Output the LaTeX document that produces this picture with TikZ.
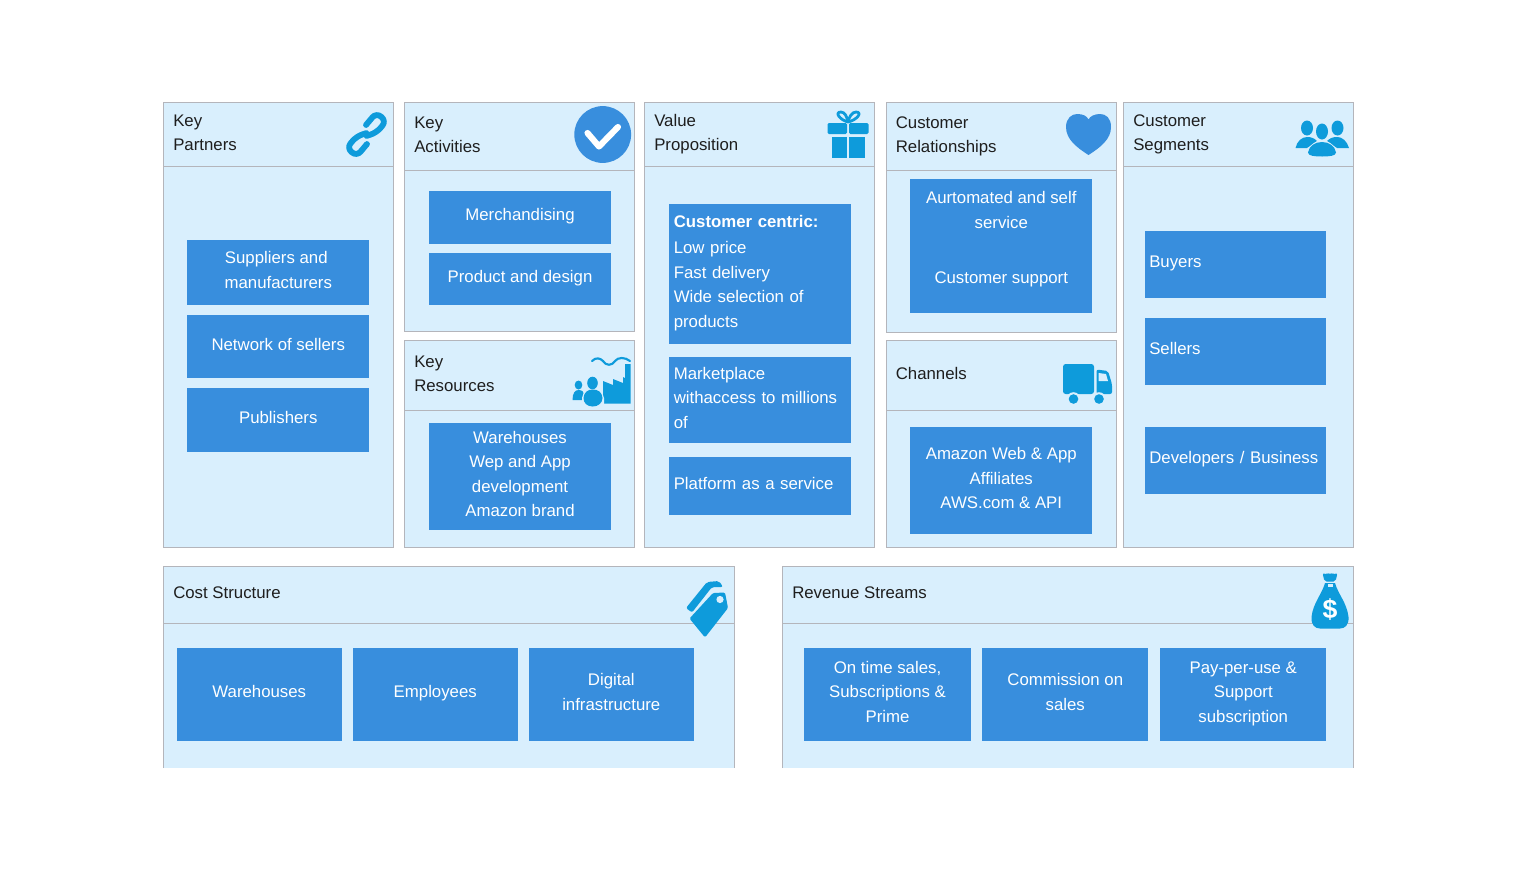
\documentclass[tikz,border=0pt]{standalone}
\usepackage{fontspec}
\setmainfont{Liberation Sans}
\definecolor{panelfill}{HTML}{D9EFFD}
\definecolor{paneledge}{HTML}{B4B5BB}
\definecolor{boxfill}{HTML}{388EDD}
\definecolor{iconblue}{HTML}{0E9BDB}
\definecolor{labeltext}{HTML}{1E1E1E}
\tikzset{
	panelbody/.style={fill=panelfill},
	paneledgeline/.style={draw=paneledge, line width=.75pt},
	headlabel/.style={anchor=west, align=left, text=labeltext, inner sep=0pt, font=\fontsize{12.6}{18.4}\selectfont},
	bluebox/.style={anchor=north west, fill=boxfill, text=white, inner sep=0pt, align=center, font=\fontsize{12.6}{18.4}\selectfont},
	iconfill/.style={fill=iconblue},
	iconline/.style={draw=iconblue, line cap=round, line join=round}
}
\newcommand{\LineEnds}[1]{\strut #1\rule[-7.8pt]{0pt}{1pt}}
\newcommand{\Panel}[7]{
	\fill[panelbody] (#2,#3) rectangle (#4,#5);
	\draw[paneledgeline] (#2,#3) rectangle (#4,#5);
	\draw[paneledgeline] (#2,#6) -- (#4,#6);
	\node[headlabel] (#1) at (#2+9.5,#3*.5+#6*.5+1) {\LineEnds{#7}};
}
\newcommand{\OpenPanel}[7]{
	\fill[panelbody] (#2,#3) rectangle (#4,#5);
	\draw[paneledgeline] (#2,#5) -- (#2,#3) -- (#4,#3) -- (#4,#5);
	\draw[paneledgeline] (#2,#6) -- (#4,#6);
	\node[headlabel] (#1) at (#2+9.5,#3*.5+#6*.5+.5) {\LineEnds{#7}};
}
\newcommand{\BlueBox}[6]{
	\node[bluebox, minimum width=#4*.75pt, minimum height=#5*.75pt] (#1) at (#2,#3) {\LineEnds{#6}};
}
\newcommand{\BlueBoxLeft}[6]{
	\node[bluebox, align=left, text width=#4*.75pt-6.75pt, inner xsep=3.375pt, minimum height=#5*.75pt] (#1) at (#2,#3) {\LineEnds{#6}};
}
\begin{document}
\begin{tikzpicture}[x=.75pt,y=-.75pt]
	\useasboundingbox (0,0) rectangle (1516,872);
	% panels
	\Panel{keypartners}{163.5}{102.5}{393}{547}{166}{Key\\Partners}
	\Panel{keyactivities}{404.5}{102.5}{634.5}{331.5}{170}{Key\\Activities}
	\Panel{keyresources}{404.5}{340.5}{634.5}{547}{410}{Key\\Resources}
	\Panel{valueprop}{644.5}{102.5}{874.5}{547}{166}{Value\\Proposition}
	\Panel{custrel}{886}{102.5}{1116}{332}{170}{Customer\\Relationships}
	\Panel{channels}{886}{340.5}{1116}{547}{410}{Channels}
	\Panel{custseg}{1123.5}{102.5}{1353}{547}{166}{Customer\\Segments}
	\OpenPanel{coststruct}{163.5}{566.5}{734}{768}{623}{Cost Structure}
	\OpenPanel{revenue}{782.5}{566.5}{1353.5}{768}{623}{Revenue Streams}
	% key partners
	\BlueBox{suppliers}{187}{240}{182}{65}{Suppliers and\hspace*{3pt}\\manufacturers}
	\BlueBox{sellernet}{187}{315}{182}{63}{Network of sellers}
	\BlueBox{publishers}{187}{388}{182}{64}{Publishers}
	% key activities
	\BlueBox{merch}{429}{191}{181.5}{52.5}{Merchandising}
	\BlueBox{product}{429}{253}{181.5}{52}{Product and design}
	% key resources
	\BlueBox{resources}{429}{423}{181.5}{107}{Warehouses\\Wep and App\\development\\Amazon brand}
	% value proposition
	\BlueBoxLeft{centric}{669}{203.5}{182}{140.5}{\textbf{Customer centric:}\\[1.5pt]Low price\\Fast delivery\\Wide selection of\\products}
	\BlueBoxLeft{market}{669}{357}{182}{86}{Marketplace\\withaccess to millions\\of}
	\BlueBoxLeft{platform}{669}{456.5}{182}{58}{Platform as a service}
	% customer relationships
	\BlueBox{selfserv}{910}{178.5}{182}{68}{Aurtomated and self\\service}
	\BlueBox{support}{910}{246}{182}{67}{Customer support}
	% channels
	\BlueBox{webapp}{910}{427}{182}{107}{Amazon Web \& App\\Affiliates\\AWS.com \& API}
	% customer segments
	\BlueBoxLeft{buyers}{1144.5}{230.5}{181.5}{67.5}{Buyers}
	\BlueBoxLeft{sellers}{1144.5}{317.5}{181.5}{67.5}{Sellers}
	\BlueBoxLeft{developers}{1144.5}{426.5}{181.5}{67.5}{Developers / Business}
	% cost
	\BlueBox{warehouses}{176.5}{648}{165}{92.5}{Warehouses}
	\BlueBox{employees}{352.5}{648}{165}{92.5}{Employees}
	\BlueBox{digital}{528.5}{648}{165}{92.5}{Digital\\infrastructure}
	% revenue
	\BlueBox{ontime}{804}{648}{166.5}{92.5}{On time sales,\\Subscriptions \&\\Prime}
	\BlueBox{commission}{982}{648}{166}{92.5}{Commission on\\sales}
	\BlueBox{payper}{1160}{648}{166}{92.5}{Pay-per-use \&\\Support\\subscription}
	% link icon
	\begin{scope}[shift={(366.5,134.5)},rotate=50]
		\draw[iconline, line width=4.4pt, rounded corners=4.4pt] (7,-6.5) -- (23,-6.5) -- (23,6.5) -- (8,6.5) -- (-1,1);
		\draw[iconline, line width=4.4pt, rounded corners=4.4pt] (-7,6.5) -- (-23,6.5) -- (-23,-6.5) -- (-8,-6.5) -- (1,-1);
	\end{scope}
	% check icon
	\fill[boxfill] (602.7,134.5) circle (28.4);
	\draw[white, line width=4.6pt, line cap=round, line join=round] (587.5,133) -- (599,146.5) -- (618,127);
	% gift icon
	\draw[iconline, line width=2.1pt] (848,122) .. controls (840,120) and (834,112) .. (841,112) .. controls (845,112) and (847,117) .. (848,122) .. controls (849,117) and (852,112) .. (856,112) .. controls (863,112) and (857,120) .. (848,122);
	\fill[iconfill, rounded corners=1pt] (827.5,123) rectangle (847,134);
	\fill[iconfill, rounded corners=1pt] (849,123) rectangle (868.5,134);
	\fill[iconfill] (832,137) rectangle (847,158);
	\fill[iconfill] (849,137) rectangle (865,158);
	% heart icon
	\fill[boxfill] (1088.5,155) .. controls (1076,147) and (1066,139) .. (1066,127) .. controls (1066,118) and (1072,114) .. (1077,114) .. controls (1083,114) and (1087,116) .. (1088.5,119.5) .. controls (1090,116) and (1095,114) .. (1100,114) .. controls (1106,114) and (1111,118) .. (1111,127) .. controls (1111,139) and (1101,147) .. (1088.5,155) -- cycle;
	% people icon
	\fill[iconfill] (1307,128) ellipse (6 and 7.5);
	\fill[iconfill] (1337.5,128) ellipse (6 and 7.5);
	\fill[iconfill] (1295.5,148) .. controls (1297,141) and (1302,137) .. (1307,137) .. controls (1311,137) and (1314,138) .. (1317,141) -- (1307,148) -- cycle;
	\fill[iconfill] (1349,148) .. controls (1347,141) and (1342,137) .. (1337.5,137) .. controls (1333,137) and (1330,138) .. (1327,141) -- (1337,148) -- cycle;
	\fill[panelfill] (1322,131.5) ellipse (7.5 and 9.5);
	\fill[panelfill] (1306,157.5) .. controls (1307,147) and (1314,140.5) .. (1322,140.5) .. controls (1330,140.5) and (1337,147) .. (1338,157.5) -- cycle;
	\fill[iconfill] (1322,131.5) ellipse (6 and 8);
	\fill[iconfill] (1322,156.5) .. controls (1315,156.5) and (1308,156) .. (1308,152.5) .. controls (1309,146) and (1315,142) .. (1322,142) .. controls (1329,142) and (1335,146) .. (1336,152.5) .. controls (1336,156) and (1329,156.5) .. (1322,156.5) -- cycle;
	% factory icon
	\draw[iconline, line width=1.6pt] (592,361) .. controls (596,357) and (600,358) .. (603,361) .. controls (606,366) and (612,366) .. (615,361) .. controls (618,357) and (625,357) .. (630,361);
	\fill[iconfill] (603,403.5) -- (603,381) -- (613,385) -- (613,379) -- (623,383) -- (623,377) -- (625,378) -- (625,364) -- (630.5,364) -- (630.5,403.5) -- cycle;
	\fill[iconfill] (578.5,385) ellipse (3.8 and 4.5);
	\fill[iconfill] (572.5,400) .. controls (572.5,393) and (575,390) .. (578.5,390) .. controls (582,390) and (584,392) .. (584,394) -- (584,400) -- cycle;
	\fill[panelfill] (592.5,383) ellipse (6.5 and 7.5);
	\fill[panelfill] (582,407) -- (582,398) .. controls (583,391) and (588,388) .. (592.5,388) .. controls (597,388) and (603,391) .. (604,398) -- (604,407) -- cycle;
	\fill[iconfill] (592.5,383) ellipse (5.3 and 6.3);
	\fill[iconfill] (592.8,406.5) .. controls (587,406.5) and (583.5,403) .. (583.5,398) .. controls (584,392) and (588,389.5) .. (592.8,389.5) .. controls (598,389.5) and (602,392) .. (602.5,398) .. controls (602.5,403) and (598,406.5) .. (592.8,406.5) -- cycle;
	% truck icon
	\fill[iconfill, rounded corners=2pt] (1063,364) rectangle (1094,394);
	\fill[iconfill, rounded corners=1.5pt] (1096.5,394) -- (1096.5,369.5) -- (1108,371) -- (1112,384) -- (1112,394) -- cycle;
	\fill[panelfill] (1098.5,373) -- (1106,374) -- (1108,381) -- (1098.5,381) -- cycle;
	\fill[panelfill] (1073.5,399) circle (6.8);
	\fill[panelfill] (1099,399) circle (6.8);
	\fill[iconfill] (1073.5,399) circle (4.8);
	\fill[iconfill] (1099,399) circle (4.8);
	% tag icon
	\fill[iconfill, rounded corners=1.5pt] (686,608) -- (707,582) -- (719,581) -- (723,587) -- (712,587) -- (692,612.5) -- cycle;
	\fill[iconfill, rounded corners=1pt] (713,593) -- (725,592.5) -- (728,608) -- (705,637.5) -- (689.5,618.5) -- cycle;
	\fill[panelfill] (720,599.5) circle (3.6);
	% money bag icon
	\fill[iconfill, rounded corners=1.5pt] (1322.5,573) -- (1327,574.5) -- (1330,572.5) -- (1333,574.5) -- (1337.5,573) -- (1335.5,581.5) -- (1324.5,581.5) -- cycle;
	\fill[iconfill] (1325,583) -- (1335,583) .. controls (1338,594) and (1347,603) .. (1348.5,617) .. controls (1349,625) and (1345,628.5) .. (1340,628.5) -- (1320,628.5) .. controls (1315,628.5) and (1311,625) .. (1311.5,617) .. controls (1313,603) and (1322,594) .. (1325,583) -- cycle;
	\fill[panelfill] (1327.5,584) rectangle (1333,586.5);
	\node[text=white, inner sep=0pt, font=\bfseries\fontsize{20}{20}\selectfont] (dollar) at (1330,609.5) {\$};
\end{tikzpicture}
\end{document}
